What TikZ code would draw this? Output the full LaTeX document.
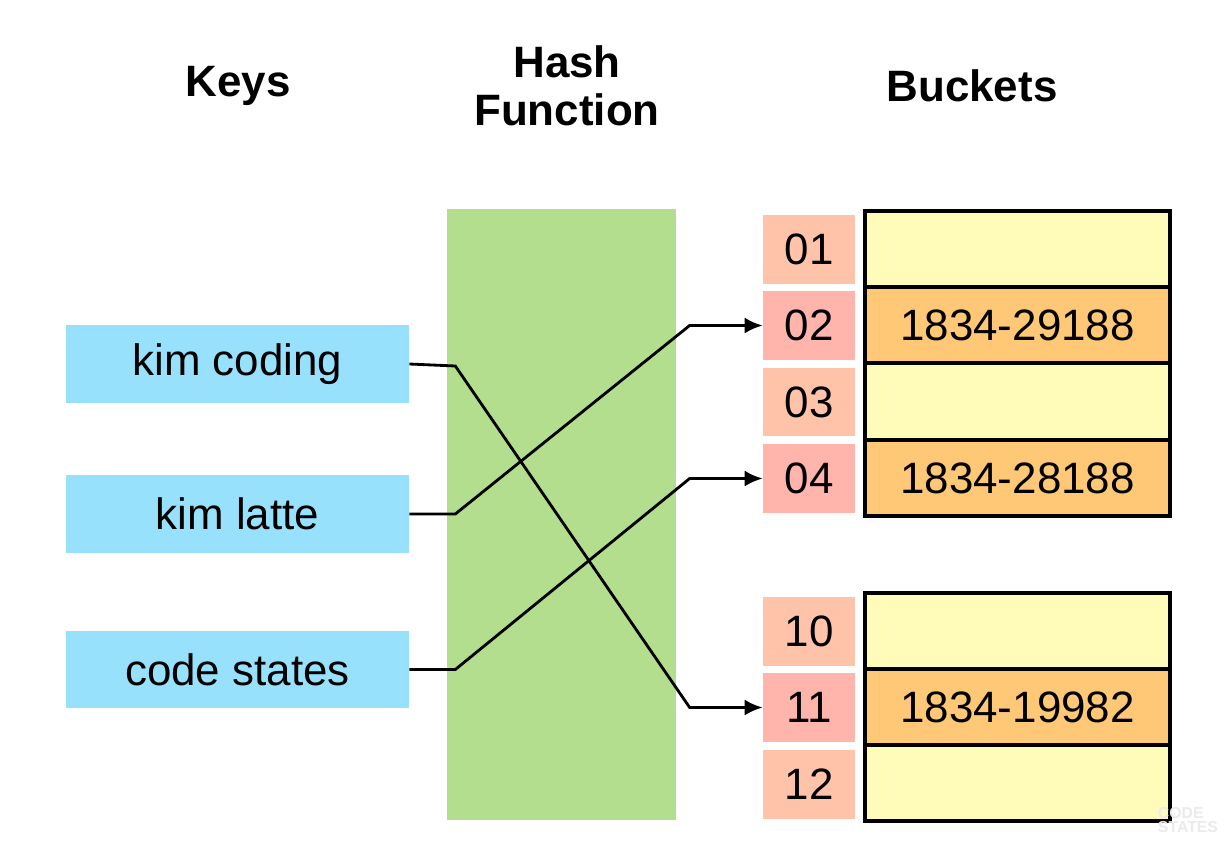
\documentclass[tikz,border=0pt]{standalone}
\usepackage{fontspec}
\setmainfont{Liberation Sans}
\usetikzlibrary{calc,arrows.meta}

\definecolor{keyblue}{HTML}{97E1FD}
\definecolor{hashgreen}{HTML}{B3DE8E}
\definecolor{idxlight}{HTML}{FFC3A9}
\definecolor{idxpink}{HTML}{FFB4AC}
\definecolor{slotyellow}{HTML}{FFFBB9}
\definecolor{slotorange}{HTML}{FFC877}

\tikzset{
  title/.style={font=\fontsize{25}{27}\selectfont\bfseries, align=center},
  keybox/.style={fill=keyblue, minimum width=6.86cm, minimum height=1.56cm,
    font=\fontsize{25}{28}\selectfont},
  idxbox/.style={fill=#1, minimum width=1.84cm, minimum height=1.38cm,
    font=\fontsize{25}{28}\selectfont},
  slot/.style={draw=black, line width=2.2pt, fill=#1, minimum width=6.1cm,
    minimum height=1.52cm, font=\fontsize{25}{28}\selectfont},
  link/.style={line width=1.6pt, -{Latex[length=3.6mm,width=3.2mm]}}
}

\begin{document}
\begin{tikzpicture}[x=0.02cm, y=-0.02cm]
  \useasboundingbox[fill=white] (0,0) rectangle (1228,862);

  % Titles
  \node[title] (tkeys) at (238,86) {Keys};
  \node[title] (thash) at (567,86) {Hash\\Function};
  \node[title] (tbuckets) at (972,86) {Buckets};

  % Hash function block
  \node[fill=hashgreen, minimum width=4.58cm, minimum height=12.22cm] (hash) at (561.5,514.5) {};

  % Keys
  \node[keybox] (kimcoding) at (237.5,364) {kim coding};
  \node[keybox] (kimlatte) at (237.5,514) {kim latte};
  \node[keybox] (codestates) at (237.5,669.5) {code states};

  % Bucket indices
  \node[idxbox=idxlight] (idx01) at (809,249.5) {01};
  \node[idxbox=idxpink]  (idx02) at (809,325.5) {02};
  \node[idxbox=idxlight] (idx03) at (809,402) {03};
  \node[idxbox=idxpink]  (idx04) at (809,478.5) {04};
  \node[idxbox=idxlight] (idx10) at (809,631.5) {10};
  \node[idxbox=idxpink]  (idx11) at (809,707.5) {11};
  \node[idxbox=idxlight] (idx12) at (809,784) {12};

  % Bucket slots
  \node[slot=slotyellow] (slot01) at (1017.5,249) {};
  \node[slot=slotorange] (slot02) at (1017.5,325) {1834-29188};
  \node[slot=slotyellow] (slot03) at (1017.5,401.5) {};
  \node[slot=slotorange] (slot04) at (1017.5,478) {1834-28188};
  \node[slot=slotyellow] (slot10) at (1017.5,631) {};
  \node[slot=slotorange] (slot11) at (1017.5,707) {1834-19982};
  \node[slot=slotyellow] (slot12) at (1017.5,783) {};

  % Mapping
  \draw[link] (kimcoding.east) -- ++(46,2) -- ($(idx11.west)+(-73,0)$) -- (idx11.west);
  \draw[link] (kimlatte.east) -- ++(46,0) -- ($(idx02.west)+(-73,0)$) -- (idx02.west);
  \draw[link] (codestates.east) -- ++(46,0) -- ($(idx04.west)+(-73,0)$) -- (idx04.west);

  % Watermark
  \node[text=black!8, font=\fontsize{9}{8}\selectfont\bfseries, align=left] (mark) at (1188,820) {CODE\\STATES};
\end{tikzpicture}
\end{document}
